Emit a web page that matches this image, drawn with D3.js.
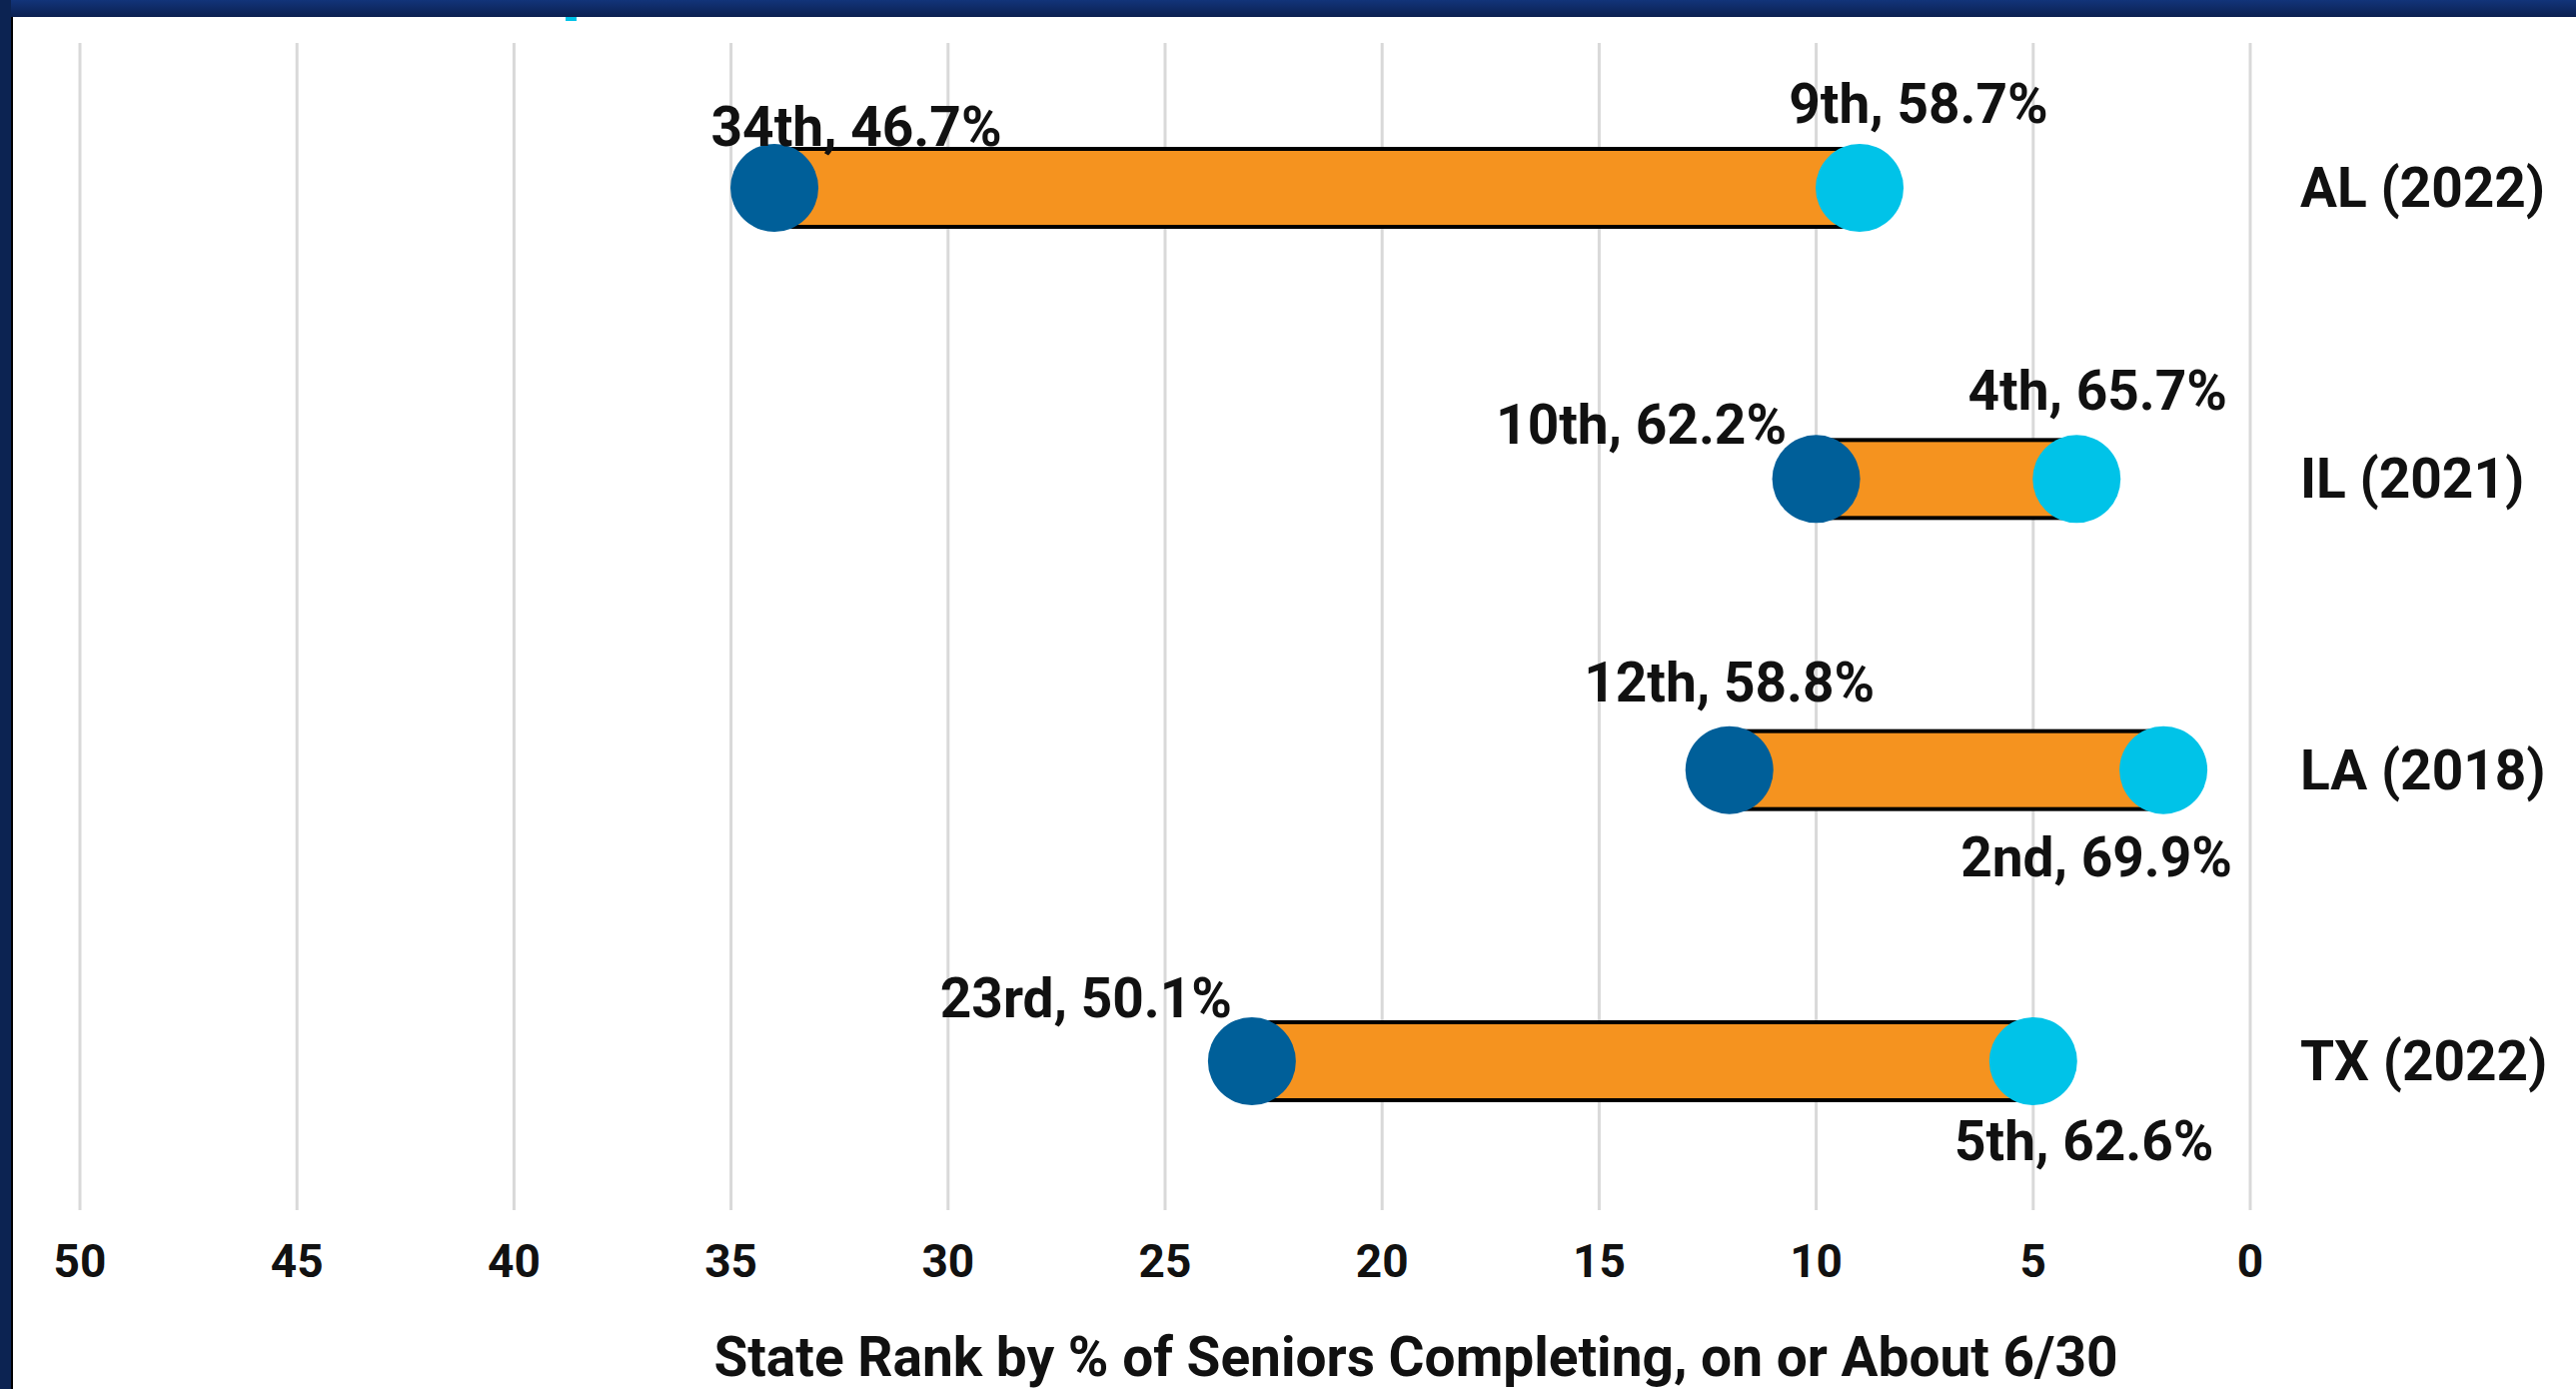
<!DOCTYPE html>
<html>
<head>
<meta charset="utf-8">
<script src="https://cdn.jsdelivr.net/npm/d3@7"></script>
<style>
  body { margin: 0; background: #fff; }
  text { font-family: Roboto, "Noto Sans", sans-serif; font-weight: 700; fill: #111; }
</style>
</head>
<body>
<script>
// data
var categories = ["AL (2022)", "IL (2021)", "LA (2018)", "TX (2022)"];
var startRank = [34, 10, 12, 23];
var startPct = [46.7, 62.2, 58.8, 50.1];
var endRank = [9, 4, 2, 5];
var endPct = [58.7, 65.7, 69.9, 62.6];
var xTicks = [50, 45, 40, 35, 30, 25, 20, 15, 10, 5, 0];
var axisTitle = "State Rank by % of Seniors Completing, on or About 6/30";

// canvas and positioning magic numbers
var w = 2578;
var h = 1390;
var dotR = 44;
var barH = 78;
// label nudges (dx, dy from the dot centre), hand placed like the original
var startLabelPos = [[82, -42], [-175, -35], [0, -69], [-166, -44]];
var endLabelPos = [[59, -65], [21, -69], [-67, 106], [51, 99]];

var svg = d3.select("body")
            .append("svg")
            .attr("width", w)
            .attr("height", h);

// slide frame: dark band on top and left
var defs = svg.append("defs");
var grad = defs.append("linearGradient")
               .attr("id", "topband")
               .attr("x1", 0).attr("y1", 0).attr("x2", 0).attr("y2", 1);
grad.append("stop").attr("offset", "0%").attr("stop-color", "#12347a");
grad.append("stop").attr("offset", "100%").attr("stop-color", "#0b2050");

svg.append("rect").attr("x", 0).attr("y", 0).attr("width", w).attr("height", 17).attr("fill", "url(#topband)");
svg.append("rect").attr("x", 0).attr("y", 0).attr("width", 11).attr("height", h).attr("fill", "#0c2352");
svg.append("rect").attr("x", 11).attr("y", 17).attr("width", 2).attr("height", h).attr("fill", "#000");
svg.append("rect").attr("x", 566).attr("y", 17).attr("width", 11).attr("height", 4).attr("fill", "#00c3e8");

var x = d3.scaleLinear()
          .domain([50, 0])
          .range([80, 2252]);

var y = d3.scalePoint()
          .domain(categories)
          .range([188, 1062]);

// gridlines
svg.append("g")
   .selectAll("line")
   .data(xTicks)
   .enter()
   .append("line")
   .attr("x1", function(d) { return x(d); })
   .attr("x2", function(d) { return x(d); })
   .attr("y1", 43)
   .attr("y2", 1211)
   .attr("stroke", "#d9d9d9")
   .attr("stroke-width", 3);

// tick labels
svg.append("g")
   .selectAll("text")
   .data(xTicks)
   .enter()
   .append("text")
   .attr("x", function(d) { return x(d); })
   .attr("y", 1278)
   .attr("text-anchor", "middle")
   .style("font-size", "46px")
   .text(function(d) { return d; });

svg.append("text")
   .attr("x", 1417)
   .attr("y", 1377)
   .attr("text-anchor", "middle")
   .style("font-size", "55px")
   .text(axisTitle);

function ordinal(n) {
    var s = ["th", "st", "nd", "rd"];
    var v = n % 100;
    return n + (s[(v - 20) % 10] || s[v] || s[0]);
}

var rows = categories.map(function(c, i) {
    return { cat: c, s: startRank[i], sp: startPct[i], e: endRank[i], ep: endPct[i], i: i };
});

var g = svg.selectAll("g.row")
           .data(rows)
           .enter()
           .append("g")
           .attr("class", "row");

// orange connecting bar
g.append("rect")
 .attr("x", function(d) { return x(d.s); })
 .attr("y", function(d) { return y(d.cat) - barH / 2; })
 .attr("width", function(d) { return x(d.e) - x(d.s); })
 .attr("height", barH)
 .attr("fill", "#f5931f")
 .attr("stroke", "#000")
 .attr("stroke-width", 4);

g.append("circle")
 .attr("cx", function(d) { return x(d.s); })
 .attr("cy", function(d) { return y(d.cat); })
 .attr("r", dotR)
 .attr("fill", "#005f99");

g.append("circle")
 .attr("cx", function(d) { return x(d.e); })
 .attr("cy", function(d) { return y(d.cat); })
 .attr("r", dotR)
 .attr("fill", "#00c3e8");

g.append("text")
 .attr("x", function(d) { return x(d.s) + startLabelPos[d.i][0]; })
 .attr("y", function(d) { return y(d.cat) + startLabelPos[d.i][1]; })
 .attr("text-anchor", "middle")
 .style("font-size", "55px")
 .text(function(d) { return ordinal(d.s) + ", " + d.sp.toFixed(1) + "%"; });

g.append("text")
 .attr("x", function(d) { return x(d.e) + endLabelPos[d.i][0]; })
 .attr("y", function(d) { return y(d.cat) + endLabelPos[d.i][1]; })
 .attr("text-anchor", "middle")
 .style("font-size", "55px")
 .text(function(d) { return ordinal(d.e) + ", " + d.ep.toFixed(1) + "%"; });

// category names on the right
g.append("text")
 .attr("x", 2302)
 .attr("y", function(d) { return y(d.cat) + 19; })
 .style("font-size", "55px")
 .text(function(d) { return d.cat; });
</script>
</body>
</html>
